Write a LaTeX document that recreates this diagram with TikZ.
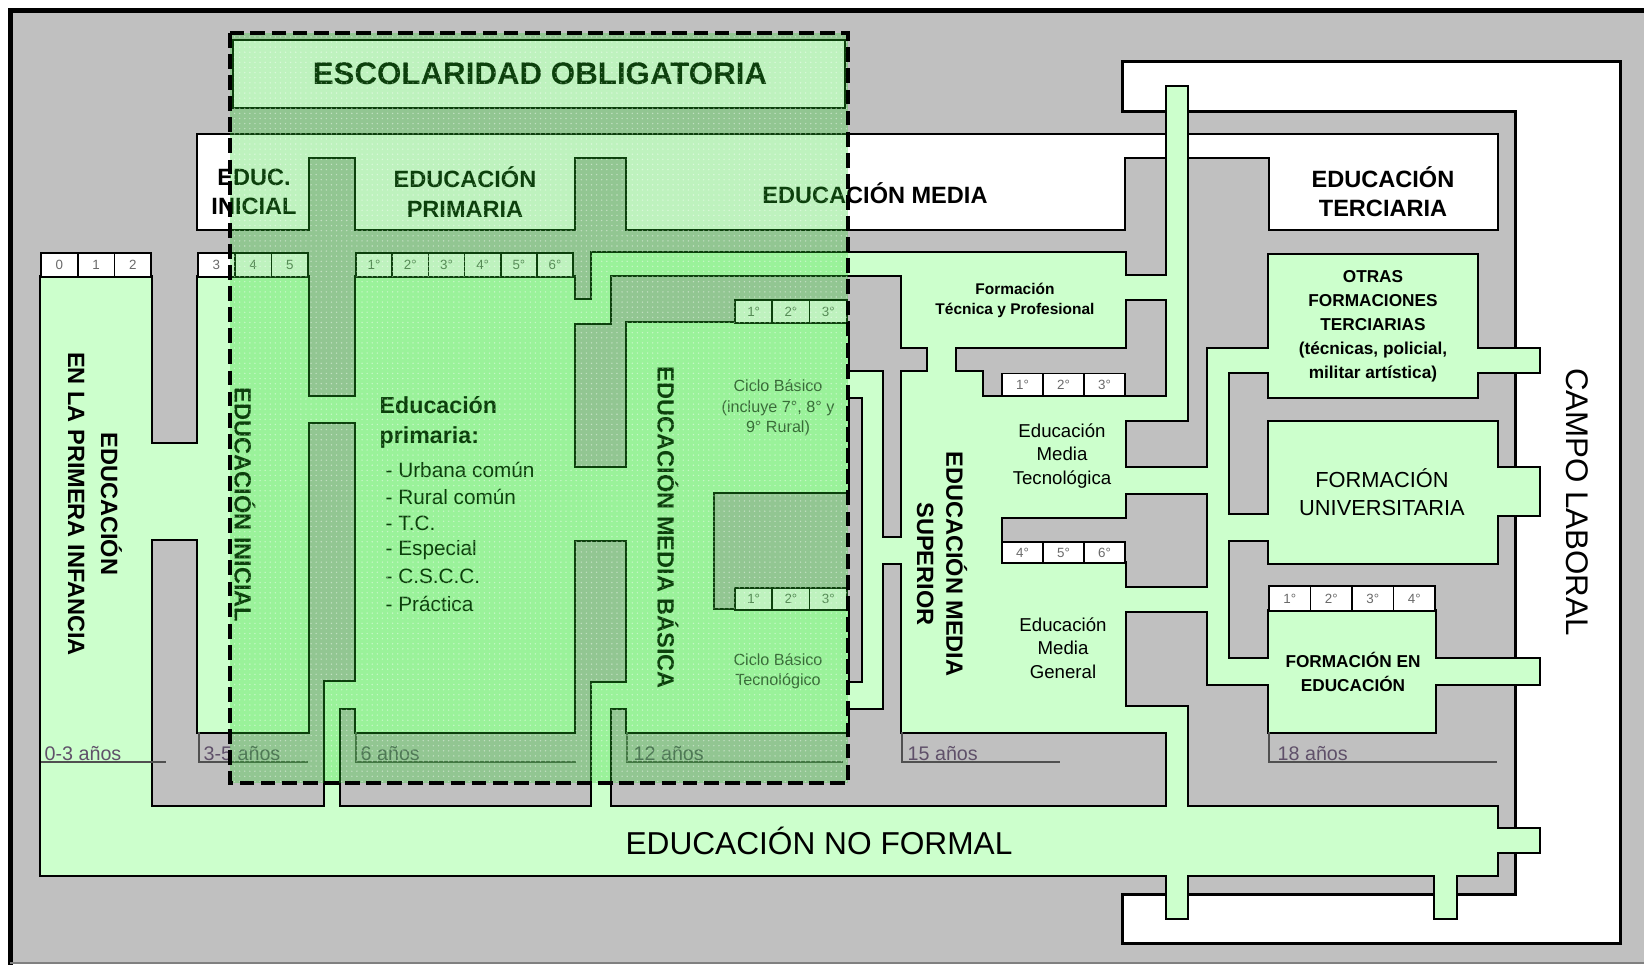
\documentclass[tikz,border=0pt]{standalone}
\usepackage{fontspec}
\setmainfont{Liberation Sans}
\usetikzlibrary{positioning,patterns}

\definecolor{fondo}{RGB}{192,192,192}
\definecolor{verde}{RGB}{204,255,204}
\definecolor{obligatoria}{RGB}{40,215,40}
\definecolor{gris}{RGB}{105,105,105}
\definecolor{edadtxt}{RGB}{95,80,105}
\definecolor{edadln}{RGB}{80,80,80}

% trama de puntos de la escolaridad obligatoria
\pgfdeclarepatternformonly{puntos}{\pgfqpoint{-0.4pt}{-0.4pt}}{\pgfqpoint{0.4pt}{0.4pt}}{\pgfqpoint{1.45pt}{1.45pt}}{%
  \pgfpathcircle{\pgfqpoint{0pt}{0pt}}{0.22pt}\pgfusepath{fill}}

% rectangulos de cada zona: x1/y1/x2/y2 (pixeles)
\newcommand{\rectblancoC}{1124/63/1619/110, 1517/63/1619/942, 1124/896/1619/942}
\newcommand{\rectbanda}{198/135/1497/157, 198/157/308/229, 356/157/574/229, 627/157/1124/229, 1270/157/1497/229}
\newcommand{\rectverde}{41/277/151/875, 151/444/198/539, 198/277/308/732, 308/397/356/422,
  356/277/574/732, 325/682/356/708, 325/708/339/807, 574/300/610/323, 592/253/610/323,
  592/253/902/275, 574/468/627/540, 627/323/848/492, 627/492/713/732, 713/610/848/732,
  592/683/627/708, 592/708/610/807, 848/372/882/397, 848/683/882/708, 863/372/882/708,
  882/538/902/563, 902/253/1125/347, 928/347/955/372, 902/372/982/397, 902/397/1125/517,
  902/517/1001/563, 902/563/1125/732, 1125/276/1167/299, 1167/87/1187/420, 1125/397/1187/420,
  1125/468/1208/493, 1125/588/1208/611, 1208/349/1228/684, 1228/349/1269/372,
  1228/515/1269/540, 1228/659/1269/684, 1125/707/1187/732, 1167/707/1187/918,
  1269/255/1477/397, 1477/349/1539/372, 1269/422/1497/563, 1497/468/1539/515,
  1269/611/1435/732, 1435/659/1539/684, 41/807/1497/875, 1497/829/1539/852, 1435/875/1456/918}

% union de rectangulos: primero el borde grueso, luego el relleno
\newcommand{\zona}[3]{%
  \foreach \xa/\ya/\xb/\yb in #3 {\draw[line width=#2] (\xa,\ya) rectangle (\xb,\yb);}
  \foreach \xa/\ya/\xb/\yb in #3 {\fill[#1] (\xa,\ya) rectangle (\xb,\yb);}
}
% fila de celdas: nombre, x inicial, y centro, ancho, alto, textos
\newcommand{\celdas}[6]{%
  \foreach \t [count=\i] in {#6}
    \node[celda, minimum width=#4*0.01cm, minimum height=#5*0.01cm] (#1-\i) at ({#2+#4*(\i-0.5)},#3) {\t};
}

\begin{document}
\begin{tikzpicture}[x=0.01cm, y=-0.01cm,
    celda/.style={draw=black, line width=0.5pt, fill=white, inner sep=0pt, text=gris, font=\fontsize{3.8}{4}\selectfont},
    rotulo/.style={font=\fontsize{6.7}{8.3}\selectfont\bfseries, align=center, inner sep=0pt},
    vertical/.style={rotulo, rotate=-90},
    chico/.style={font=\fontsize{4.9}{6.8}\selectfont\bfseries, align=center, inner sep=0pt},
    medio/.style={font=\fontsize{5.3}{6.7}\selectfont, align=center, inner sep=0pt},
    ciclo/.style={font=\fontsize{4.6}{5.8}\selectfont, align=center, inner sep=0pt, text=gris!60!black},
    lista/.style={font=\fontsize{5.9}{7}\selectfont, inner sep=0pt, anchor=west},
    edad/.style={anchor=base west, inner sep=0pt, text=edadtxt, font=\fontsize{5.6}{6}\selectfont},
    edadlin/.style={draw=edadln, line width=0.5pt}]
  \useasboundingbox (0,0) rectangle (1644,965);
  \fill[white] (0,0) rectangle (1644,965);
  \fill[fondo] (10,10) rectangle (1644,963);
  \draw[line width=1.4pt] (10.5,965) -- (10.5,10.5) -- (1644,10.5);
  \draw[line width=0.4pt, gray] (10,963) -- (1644,963);

  % zonas blancas y verdes
  \zona{white}{1.8pt}{\rectblancoC}
  \zona{white}{1.2pt}{\rectbanda}
  \draw[line width=0.6pt, fill=white] (233,40) rectangle (845,108);
  \zona{verde}{1.4pt}{\rectverde}

  % celdas de grados
  \celdas{c012}{41}{265}{36.7}{24}{0,1,2}
  \celdas{c345}{198}{265}{36.7}{24}{3,4,5}
  \celdas{cpri}{356}{265}{36.2}{24}{1°,2°,3°,4°,5°,6°}
  \celdas{cmb}{735}{311.5}{37.3}{23}{1°,2°,3°}
  \celdas{ccbt}{735}{599}{37.3}{22}{1°,2°,3°}
  \celdas{cft}{1002}{384.5}{41}{22}{1°,2°,3°}
  \celdas{cmt}{1002}{552.5}{41}{21}{4°,5°,6°}
  \celdas{cfee}{1269}{598.5}{41.5}{25}{1°,2°,3°,4°}

  % edades
  \draw[edadlin] (41,762) -- (166,762);
  \node[edad] (e03) at (44,761) {0-3 años};
  \draw[edadlin] (199,732) -- (199,762) -- (308,762);
  \node[edad] (e35) at (203,761) {3-5 años};
  \draw[edadlin] (356,732) -- (356,762) -- (576,762);
  \node[edad] (e6) at (360,761) {6 años};
  \draw[edadlin] (627,732) -- (627,762) -- (843,762);
  \node[edad] (e12) at (633,761) {12 años};
  \draw[edadlin] (902,732) -- (902,762) -- (1060,762);
  \node[edad] (e15) at (907,761) {15 años};
  \draw[edadlin] (1269,732) -- (1269,762) -- (1497,762);
  \node[edad] (e18) at (1277,761) {18 años};

  % rotulos
  \node[font=\fontsize{8.9}{10}\selectfont\bfseries, inner sep=0pt] (titulo) at (540,74) {ESCOLARIDAD OBLIGATORIA};
  \node[rotulo] (inicial) at (254,192) {EDUC.\\INICIAL};
  \node[rotulo] (primaria) at (465,192) {EDUCACIÓN\\PRIMARIA};
  \node[rotulo] (media) at (875,193) {EDUCACIÓN MEDIA};
  \node[rotulo] (terciaria) at (1383,192) {EDUCACIÓN\\TERCIARIA};
  \node[vertical, font=\fontsize{6.7}{9.4}\selectfont\bfseries] (infancia) at (95,504) {EDUCACIÓN\\EN LA PRIMERA INFANCIA};
  \node[vertical] (inicialv) at (245,505) {EDUCACIÓN INICIAL};
  \node[vertical] (mbasica) at (668,528) {EDUCACIÓN MEDIA BÁSICA};
  \node[vertical] (msuperior) at (942,564) {EDUCACIÓN MEDIA\\SUPERIOR};
  \node[rotate=-90, font=\fontsize{8.9}{10}\selectfont, inner sep=0pt] (campo) at (1577,502) {CAMPO LABORAL};
  \node[font=\fontsize{9}{10}\selectfont, inner sep=0pt] (noformal) at (819,841) {EDUCACIÓN NO FORMAL};

  \node[font=\fontsize{6.6}{8.5}\selectfont\bfseries, align=left, anchor=west, inner sep=0pt] (primtit) at (379,422) {Educación\\primaria:};
  \foreach \t [count=\i] in {- Urbana común, - Rural común, - T.C., - Especial, - C.S.C.C., - Práctica}
    \node[lista] (item\i) at (385,{470+26.7*(\i-1)}) {\t};
  \node[ciclo] (cbasico) at (778,408) {Ciclo Básico\\(incluye 7°, 8° y\\9° Rural)};
  \node[ciclo] (cbtec) at (778,671) {Ciclo Básico\\Tecnológico};

  \node[font=\fontsize{4.4}{5.7}\selectfont\bfseries, align=center, inner sep=0pt] (ftp) at (1015,300) {Formación\\Técnica y Profesional};
  \node[medio] (mtec) at (1062,456) {Educación\\Media\\Tecnológica};
  \node[medio] (mgen) at (1063,648) {Educación\\Media\\General};
  \node[chico] (otras) at (1373,326) {OTRAS\\FORMACIONES\\TERCIARIAS\\(técnicas, policial,\\militar artística)};
  \node[font=\fontsize{6.2}{8}\selectfont, align=center, inner sep=0pt] (univ) at (1382,492) {FORMACIÓN\\UNIVERSITARIA};
  \node[chico] (fee) at (1353,672) {FORMACIÓN EN\\EDUCACIÓN};

  % escolaridad obligatoria
  \fill[obligatoria, opacity=0.3] (230,33) rectangle (848,783);
  \fill[pattern=puntos, pattern color=white, fill opacity=0.45] (230,33) rectangle (848,783);
  \draw[line width=1.1pt, dash pattern=on 4.2pt off 1.8pt] (230,33) rectangle (848,783);
\end{tikzpicture}
\end{document}
